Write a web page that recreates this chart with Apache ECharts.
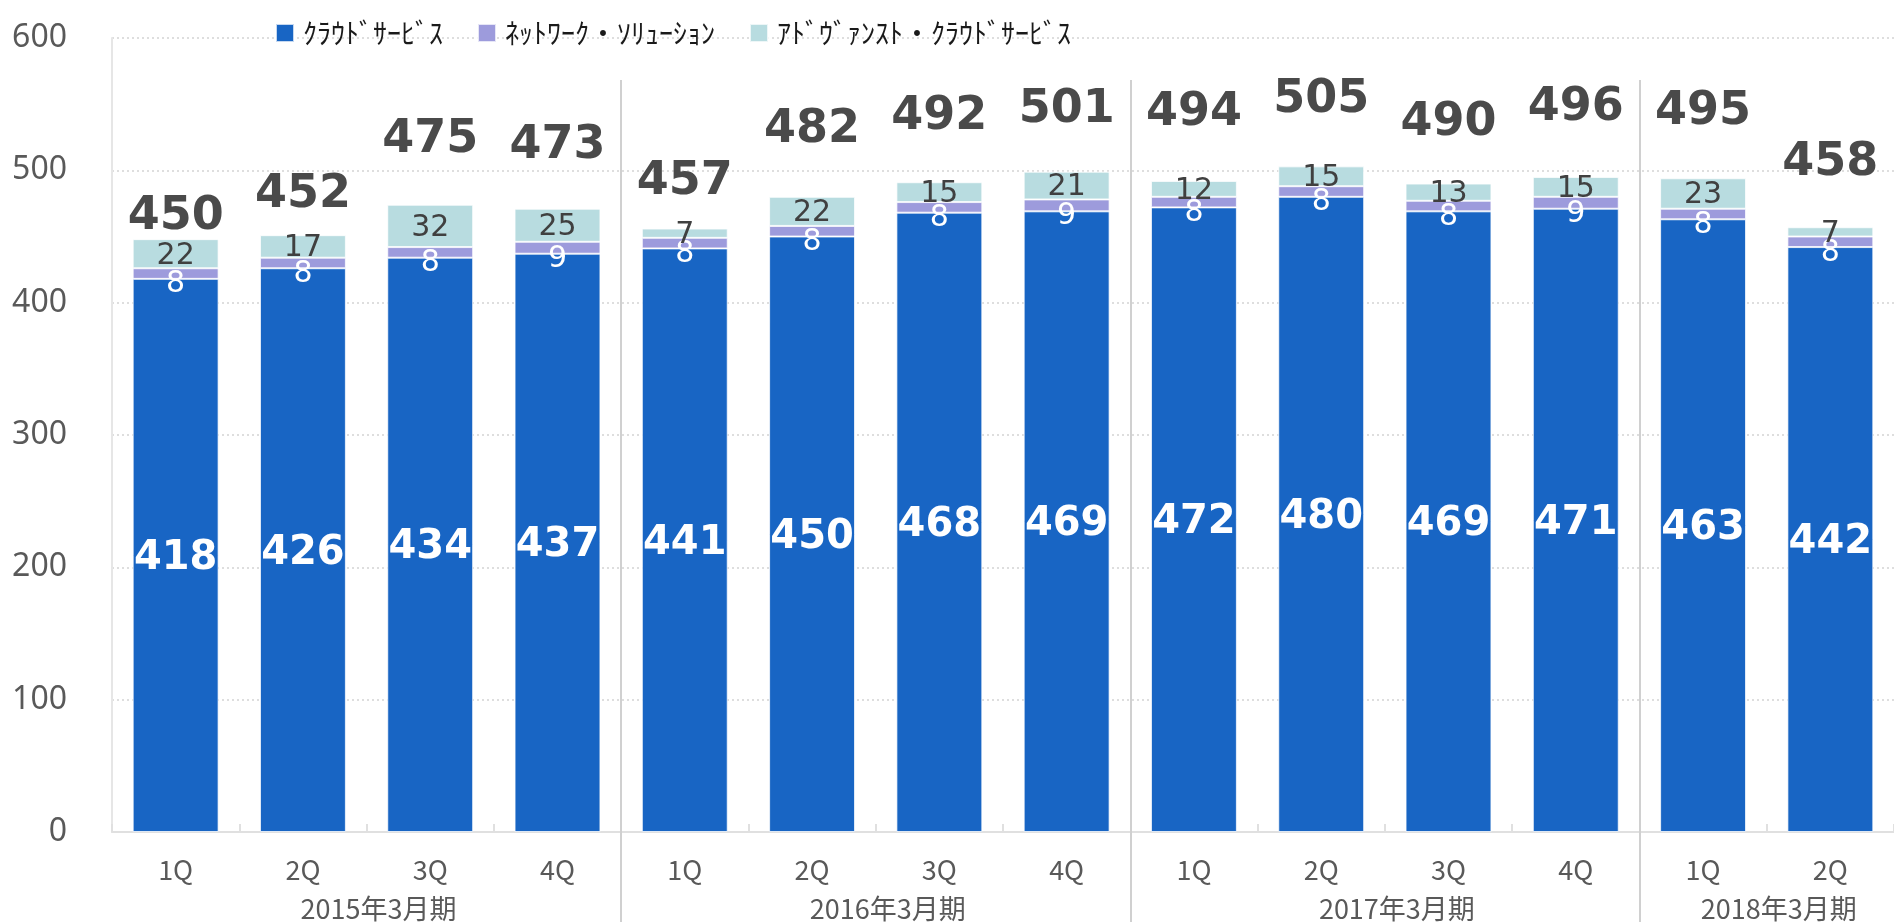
<!DOCTYPE html>
<html>
<head>
<meta charset="utf-8">
<script src="https://cdn.jsdelivr.net/npm/echarts@6/dist/echarts.min.js"></script>
<style>
  html, body { margin: 0; padding: 0; background: #ffffff; }
  #chart { width: 1894px; height: 922px; }
</style>
</head>
<body>
<div id="chart"></div>
<script>
// Quarterly revenue by business segment (stacked), with fiscal-year grouping
const quarters = ['1Q', '2Q', '3Q', '4Q', '1Q', '2Q', '3Q', '4Q', '1Q', '2Q', '3Q', '4Q', '1Q', '2Q'];
const fiscalYears = ['2015年3月期', '2016年3月期', '2017年3月期', '2018年3月期'];
const quartersPerYear = [4, 4, 4, 2];

const seriesNames = ['ｸﾗｳﾄﾞｻｰﾋﾞｽ', 'ﾈｯﾄﾜｰｸ・ｿﾘｭｰｼｮﾝ', 'ｱﾄﾞｳﾞｧﾝｽﾄ・ｸﾗｳﾄﾞｻｰﾋﾞｽ'];
const cloud    = [418, 426, 434, 437, 441, 450, 468, 469, 472, 480, 469, 471, 463, 442];
const network  = [8, 8, 8, 9, 8, 8, 8, 9, 8, 8, 8, 9, 8, 8];
const advanced = [22, 17, 32, 25, 7, 22, 15, 21, 12, 15, 13, 15, 23, 7];
const totals   = [450, 452, 475, 473, 457, 482, 492, 501, 494, 505, 490, 496, 495, 458];

const yTicks = [0, 100, 200, 300, 400, 500, 600];

// vertical lift (px) of each total label above its stack
const totalLabelLift = [22, 40, 65, 63, 47, 67, 65, 62, 68, 66, 61, 69, 66, 64];

// year boundaries and label centres on a 0..N continuous scale
const boundaries = [];
const yearCentres = [];
let acc = 0;
quartersPerYear.forEach((n, i) => {
  yearCentres.push(acc + n / 2);
  acc += n;
  if (i < quartersPerYear.length - 1) boundaries.push(acc);
});
const nCats = quarters.length;

const stackTop = cloud.map((v, i) => v + network[i] + advanced[i]);

const numFont = 'DejaVu Sans';
const axisFont = '"Noto Sans", sans-serif';
const jpFont = '"Noto Sans CJK JP", sans-serif';
const sepColor = '#d0d0d0';

const chart = echarts.init(document.getElementById('chart'), null, { renderer: 'canvas' });

const barBorder = { borderColor: 'rgba(255,255,255,0.75)', borderWidth: 1 };

chart.setOption({
  animation: false,
  backgroundColor: '#ffffff',
  legend: {
    data: seriesNames,
    left: 270,
    top: 14,
    itemWidth: 18,
    itemHeight: 18,
    itemGap: 34,
    icon: 'rect',
    textStyle: { fontFamily: jpFont, fontSize: 28, color: '#1a1a1a', padding: [0, 0, 0, 4] }
  },
  grid: { left: 112, right: -14, top: 38, bottom: 90, containLabel: false },
  xAxis: [
    {
      type: 'category',
      data: quarters,
      axisLine: { lineStyle: { color: '#e0e0e0', width: 2 } },
      axisTick: { show: true, inside: true, length: 8, lineStyle: { color: '#e0e0e0', width: 2 } },
      axisLabel: { fontFamily: jpFont, fontSize: 27, color: '#595959', margin: 24 },
      splitLine: { show: false }
    },
    {
      // separators rising into the plot + fiscal-year labels
      type: 'value', min: 0, max: nCats, position: 'bottom',
      axisLine: { show: false },
      splitLine: { show: false },
      axisTick: { show: true, inside: true, length: 752, customValues: boundaries,
        lineStyle: { color: sepColor, width: 2 } },
      axisLabel: { customValues: yearCentres, margin: 63, fontFamily: jpFont, fontSize: 27, color: '#595959',
        padding: [0, 0, 0, 24],
        formatter: (v) => fiscalYears[yearCentres.indexOf(v)] }
    },
    {
      // separators extending below the axis
      type: 'value', min: 0, max: nCats, position: 'bottom',
      axisLine: { show: false },
      splitLine: { show: false },
      axisTick: { show: true, inside: false, length: 92, customValues: boundaries,
        lineStyle: { color: sepColor, width: 2 } },
      axisLabel: { show: false }
    }
  ],
  yAxis: {
    type: 'value',
    min: yTicks[0],
    max: yTicks[yTicks.length - 1],
    interval: yTicks[1] - yTicks[0],
    axisLine: { show: true, lineStyle: { color: '#e6e6e6', width: 2 } },
    axisTick: { show: false },
    axisLabel: { fontFamily: axisFont, fontSize: 32, color: '#595959', margin: 45 },
    splitLine: { show: true, lineStyle: { color: '#d4d4d4', width: 1.5, type: [2, 3] } }
  },
  series: [
    {
      name: seriesNames[0], type: 'bar', stack: 'seg', data: cloud,
      barWidth: '67.5%',
      itemStyle: Object.assign({ color: '#1865c4' }, barBorder),
      label: { show: true, position: 'inside', offset: [0, 3], fontFamily: numFont, fontWeight: 'bold', fontSize: 40, color: '#ffffff' }
    },
    {
      name: seriesNames[1], type: 'bar', stack: 'seg', data: network,
      itemStyle: Object.assign({ color: '#9d9bdc' }, barBorder),
      label: { show: true, position: 'inside', offset: [0, 11], fontFamily: numFont, fontSize: 30, color: '#ffffff' }
    },
    {
      name: seriesNames[2], type: 'bar', stack: 'seg', data: advanced,
      itemStyle: Object.assign({ color: '#b8dce0' }, barBorder),
      label: { show: true, position: 'inside', offset: [0, 2], fontFamily: numFont, fontSize: 30, color: '#404040' }
    },
    {
      name: '合計', type: 'scatter', symbolSize: 0, z: 5,
      itemStyle: { opacity: 1 },
      data: stackTop.map((v, i) => ({
        value: v,
        label: { offset: [0, -totalLabelLift[i]] }
      })),
      label: {
        show: true, position: 'inside',
        fontFamily: numFont, fontWeight: 'bold', fontSize: 46, color: '#4a4a4a',
        formatter: (p) => String(totals[p.dataIndex])
      },
      tooltip: { show: false }
    }
  ]
});
</script>
</body>
</html>
